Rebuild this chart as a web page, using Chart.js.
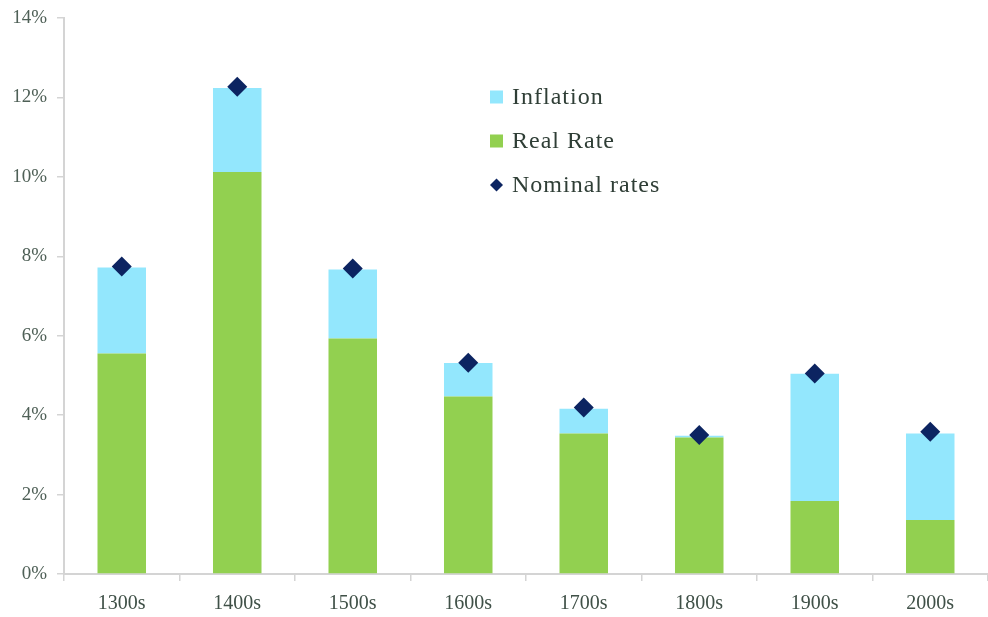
<!DOCTYPE html>
<html>
<head>
<meta charset="utf-8">
<script src="https://cdn.jsdelivr.net/npm/chart.js@4"></script>
<style>
  html, body { margin: 0; padding: 0; background: #ffffff; }
  #wrap { width: 988px; height: 617px; position: relative; overflow: hidden; }
</style>
</head>
<body>
<div id="wrap"><canvas id="c" width="988" height="617"></canvas></div>
<script>
// Interest rates by century (%)
const centuries = ['1300s', '1400s', '1500s', '1600s', '1700s', '1800s', '1900s', '2000s'];
const realRate  = [5.55, 10.12, 5.93, 4.47, 3.54, 3.44, 1.84, 1.36];
const inflation = [2.17, 2.12, 1.74, 0.84, 0.62, 0.04, 3.20, 2.18];
const nominal   = [7.74, 12.27, 7.69, 5.32, 4.19, 3.50, 5.05, 3.58];
const yTicks    = [0, 2, 4, 6, 8, 10, 12, 14];

const BLUE = '#93e7fd';
const GREEN = '#92d050';
const NAVY = '#0c2461';
const SERIF = '"Liberation Serif", "DejaVu Serif", serif';

// Legend drawn inside the plot, to the right of the tallest bar
const innerLegend = {
  id: 'innerLegend',
  afterDraw(chart) {
    const ctx = chart.ctx;
    const items = [
      { label: 'Inflation', color: BLUE, kind: 'square' },
      { label: 'Real Rate', color: GREEN, kind: 'square' },
      { label: 'Nominal rates', color: NAVY, kind: 'diamond' }
    ];
    const x0 = 490, y0 = 97, gap = 44;
    ctx.save();
    ctx.font = '24px ' + SERIF;
    if ('letterSpacing' in ctx) ctx.letterSpacing = '1px';
    ctx.textBaseline = 'middle';
    ctx.textAlign = 'left';
    items.forEach((it, i) => {
      const y = y0 + i * gap;
      ctx.fillStyle = it.color;
      if (it.kind === 'square') {
        ctx.fillRect(x0, y - 6.5, 13, 13);
      } else {
        ctx.beginPath();
        ctx.moveTo(x0 + 6.5, y - 6.5);
        ctx.lineTo(x0 + 13, y);
        ctx.lineTo(x0 + 6.5, y + 6.5);
        ctx.lineTo(x0, y);
        ctx.closePath();
        ctx.fill();
      }
      ctx.fillStyle = '#2f3e36';
      ctx.fillText(it.label, x0 + 22, y + 1);
    });
    ctx.restore();
  }
};

new Chart(document.getElementById('c'), {
  data: {
    labels: centuries,
    datasets: [
      {
        type: 'line',
        label: 'Nominal rates',
        data: nominal,
        stack: 'nominal',
        showLine: false,
        clip: false,
        pointStyle: 'rectRot',
        pointRadius: 10,
        pointHoverRadius: 10,
        pointBackgroundColor: NAVY,
        pointBorderColor: NAVY,
        pointBorderWidth: 0,
        order: 0
      },
      {
        type: 'bar',
        label: 'Real Rate',
        data: realRate,
        stack: 'rates',
        backgroundColor: GREEN,
        borderWidth: 0,
        barPercentage: 0.42,
        categoryPercentage: 1,
        order: 1
      },
      {
        type: 'bar',
        label: 'Inflation',
        data: inflation,
        stack: 'rates',
        backgroundColor: BLUE,
        borderWidth: 0,
        barPercentage: 0.42,
        categoryPercentage: 1,
        order: 1
      }
    ]
  },
  options: {
    responsive: false,
    animation: false,
    layout: { autoPadding: false, padding: { top: 18, right: -4, left: 0, bottom: 0 } },
    plugins: {
      legend: { display: false },
      tooltip: { enabled: false }
    },
    scales: {
      x: {
        stacked: true,
        grid: {
          offset: true,
          drawOnChartArea: false,
          drawTicks: true,
          tickLength: 7,
          color: '#d4d4d4',
          lineWidth: 1.5
        },
        border: { display: true, color: '#d4d4d4', width: 2 },
        ticks: {
          color: '#3f5047',
          font: { family: SERIF, size: 20 },
          padding: 11
        },
        afterFit(scale) {
          scale.height = 43;
          scale.paddingLeft = 0;
          scale.paddingRight = 0;
        }
      },
      y: {
        stacked: true,
        min: 0,
        max: 14,
        afterBuildTicks(scale) {
          scale.ticks = yTicks.map(v => ({ value: v }));
        },
        grid: {
          drawOnChartArea: false,
          drawTicks: true,
          tickLength: 7,
          color: '#d4d4d4',
          lineWidth: 1.5
        },
        border: { display: true, color: '#d4d4d4', width: 2 },
        ticks: {
          color: '#4f6057',
          font: { family: SERIF, size: 19 },
          padding: 10,
          callback: v => v + '%'
        },
        afterFit(scale) {
          scale.width = 64;
          scale.paddingTop = 0;
          scale.paddingBottom = 0;
        }
      }
    }
  },
  plugins: [innerLegend]
});
</script>
</body>
</html>
